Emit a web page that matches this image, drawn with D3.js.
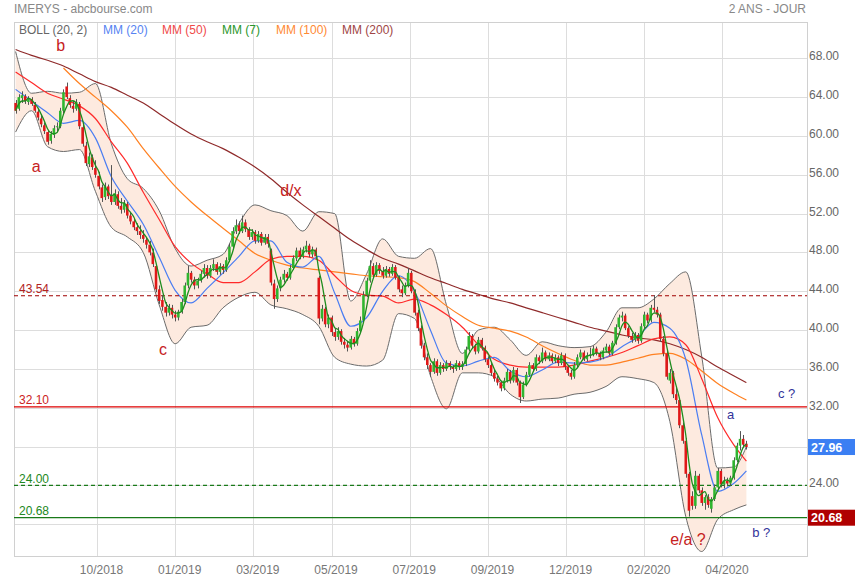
<!DOCTYPE html>
<html><head><meta charset="utf-8">
<script src="https://cdn.jsdelivr.net/npm/d3@7"></script>
<style>body{margin:0;background:#fff;} svg{display:block;font-family:"Liberation Sans",Arial,sans-serif;}</style>
</head><body><svg id="c" width="855" height="580"></svg>
<script>
// ---- data: candles [open, high, low, close] ----
const ohlc = [
[63.4,63.7,62.3,62.6],[62.8,64.3,62.6,64.0],[63.9,64.6,63.4,64.2],[64.1,64.3,63.3,63.6],[63.5,64.1,63.2,63.8],[63.8,64.0,63.1,63.3],[63.2,63.5,62.4,62.6],[62.5,62.8,61.6,61.9],[61.8,62.2,60.9,61.2],[61.1,61.4,60.2,60.5],
[60.4,60.6,59.1,59.4],[59.5,60.5,59.2,60.2],[60.1,61.1,59.8,60.8],[60.9,61.4,60.4,61.0],[61.0,62.9,60.8,62.6],[62.6,64.8,62.3,64.5],[65.1,65.5,63.8,64.0],[63.9,64.2,62.9,63.2],[63.1,63.6,62.4,62.8],[62.8,63.8,62.6,63.5],
[63.3,63.5,60.7,61.0],[60.9,61.2,58.9,59.2],[59.0,59.4,56.9,57.2],[57.1,58.3,56.8,57.9],[57.8,58.1,56.5,56.8],[56.7,57.5,55.7,56.0],[55.9,56.3,54.5,54.8],[54.7,55.0,53.2,53.6],[53.7,55.2,53.4,54.8],[54.8,55.0,53.5,53.8],
[53.9,57.0,52.9,53.2],[53.2,54.5,52.9,54.1],[54.0,54.3,52.5,52.8],[52.8,53.6,52.0,52.4],[52.4,53.4,52.1,53.1],[53.0,53.2,51.5,51.8],[51.8,52.2,50.9,51.2],[51.2,51.5,50.3,50.6],[50.6,51.0,49.8,50.2],[50.2,50.8,49.4,49.8],
[49.8,50.3,49.0,49.4],[49.3,49.6,48.4,48.8],[48.8,49.2,47.7,48.0],[48.0,48.4,46.5,46.8],[46.6,46.8,43.9,44.2],[44.2,44.6,42.7,43.0],[43.1,43.6,42.0,42.4],[42.4,42.9,41.4,41.8],[41.8,42.7,41.5,42.3],[42.3,42.6,41.2,41.6],
[41.6,42.0,40.9,41.3],[41.3,42.1,41.0,41.9],[41.9,43.2,41.7,42.9],[42.9,44.9,42.7,44.6],[44.6,46.6,44.3,45.9],[45.9,46.1,44.9,45.2],[45.2,45.5,44.2,44.6],[44.6,45.4,44.3,45.1],[45.1,46.1,44.9,45.8],[45.8,46.8,45.4,46.4],
[46.4,46.7,45.3,45.6],[45.6,46.7,45.4,46.4],[46.4,47.3,46.1,46.8],[46.8,47.0,45.7,46.0],[46.0,46.9,45.7,46.6],[46.6,46.8,45.8,46.2],[46.2,47.5,46.0,47.2],[47.2,48.9,47.0,48.6],[48.6,50.6,48.3,50.2],[50.2,51.4,49.9,50.8],
[50.8,51.2,49.9,50.2],[50.2,51.8,50.0,51.1],[51.1,51.4,50.1,50.4],[50.4,50.6,49.3,49.6],[49.6,50.4,49.3,50.1],[50.1,50.3,48.9,49.2],[49.2,50.2,49.0,49.9],[49.9,50.1,48.7,49.0],[49.0,49.9,48.8,49.6],[49.6,49.9,48.5,48.9],
[48.2,48.4,44.6,44.9],[44.8,45.2,42.2,43.2],[43.2,44.6,42.9,44.3],[44.3,45.5,44.0,45.2],[45.2,46.2,44.9,45.8],[45.8,46.0,45.1,45.4],[45.4,46.7,45.2,46.4],[46.4,47.7,46.2,47.4],[47.4,48.5,47.1,48.2],[48.2,48.5,47.3,47.6],
[47.6,48.6,47.4,48.3],[48.3,49.2,48.0,48.7],[48.7,48.9,47.5,47.8],[47.8,48.6,47.5,48.3],[48.3,48.5,47.3,47.6],[45.4,45.6,40.6,41.2],[41.2,42.6,40.9,42.2],[42.2,42.4,40.3,40.6],[40.6,41.6,40.2,41.3],[41.3,41.5,39.4,39.8],
[39.8,40.2,38.9,39.3],[39.3,40.3,39.0,39.9],[39.9,40.1,38.5,38.8],[38.8,39.2,38.1,38.5],[38.5,38.9,37.8,38.2],[38.2,39.4,38.0,39.1],[39.1,39.3,38.3,38.6],[38.6,40.2,38.4,39.9],[39.9,41.4,39.7,41.0],[41.0,44.0,40.8,43.6],
[43.6,45.4,43.4,45.1],[45.1,47.2,44.9,46.6],[46.6,46.9,45.4,45.7],[45.7,47.0,45.5,46.7],[46.7,46.9,45.8,46.1],[46.1,46.5,45.3,45.6],[45.6,46.6,45.4,46.3],[46.3,46.5,45.5,45.8],[45.8,46.8,45.6,46.5],[46.5,46.7,45.2,45.4],
[45.4,45.6,43.9,44.2],[44.2,44.6,43.4,43.8],[43.8,44.9,43.6,44.6],[44.6,46.4,44.4,45.9],[45.9,46.1,43.8,44.0],[44.0,44.2,41.5,41.8],[41.8,42.1,39.9,40.2],[40.2,40.5,38.1,38.4],[38.4,38.7,36.9,37.2],[37.2,37.6,36.0,36.4],
[36.4,36.6,35.2,35.7],[35.7,37.1,35.5,36.8],[36.8,37.0,35.3,35.6],[35.6,36.7,35.4,36.4],[36.4,36.6,35.7,36.0],[36.0,36.9,35.8,36.6],[36.6,36.8,35.9,36.2],[36.2,36.4,35.6,36.0],[36.0,36.9,35.8,36.6],[36.6,36.8,35.9,36.2],
[36.2,36.8,35.9,36.5],[36.5,38.3,36.3,38.0],[38.0,39.8,37.8,39.4],[39.4,39.6,38.1,38.4],[38.4,38.6,37.5,37.8],[37.8,39.3,37.6,39.0],[39.0,39.2,37.9,38.2],[38.2,38.4,36.7,37.0],[37.0,37.3,36.1,36.4],[36.4,36.6,35.3,35.6],
[35.6,35.9,34.7,35.0],[35.0,35.3,34.3,34.6],[34.6,34.8,33.7,34.0],[34.0,35.1,33.8,34.8],[34.8,36.0,34.6,35.7],[35.7,35.9,34.5,34.8],[34.8,36.2,34.6,35.9],[35.9,36.1,34.3,34.6],[34.6,34.8,32.5,33.1],[33.1,34.7,32.9,34.4],
[34.4,35.7,34.2,35.4],[35.4,36.7,35.2,36.4],[36.4,36.6,35.7,36.0],[36.0,37.5,35.8,37.2],[37.2,37.4,36.5,36.8],[36.8,38.2,36.6,37.7],[37.7,37.9,36.8,37.0],[37.0,37.7,36.8,37.4],[37.4,37.6,36.6,36.8],[36.8,37.5,36.6,37.2],
[37.2,37.4,36.3,36.6],[36.6,37.7,36.4,37.4],[37.4,37.6,35.9,36.2],[36.2,36.4,35.3,35.6],[35.6,35.9,34.9,35.2],[35.2,36.7,35.0,36.4],[36.4,37.5,36.2,37.2],[37.2,38.0,37.0,37.7],[37.7,37.9,36.8,37.0],[37.0,37.7,36.8,37.4],
[37.4,38.2,37.1,37.5],[37.5,38.4,37.3,38.1],[38.1,38.3,37.4,37.6],[37.6,37.8,36.9,37.2],[37.2,38.2,37.0,37.9],[37.9,38.6,37.7,38.3],[38.3,38.5,37.4,37.6],[37.6,38.9,37.4,38.7],[38.7,40.6,38.5,40.3],[40.3,41.6,40.1,41.3],
[41.3,41.9,40.9,41.5],[41.5,41.7,40.0,40.2],[40.2,40.4,39.2,39.4],[39.4,39.7,38.7,39.0],[39.0,39.8,38.8,39.5],[39.5,39.7,38.6,38.9],[38.9,40.7,38.7,40.4],[40.4,41.9,40.2,41.6],[41.6,41.8,40.7,41.0],[41.0,42.6,40.8,42.3],
[42.3,43.6,41.8,42.1],[42.1,42.4,41.3,41.6],[41.6,41.8,38.8,39.1],[39.1,39.4,37.3,37.6],[37.6,37.9,34.9,35.2],[34.8,36.0,34.5,35.6],[35.6,35.8,33.0,33.4],[33.4,34.1,32.4,32.8],[32.8,33.0,29.9,30.2],[30.2,30.5,28.3,28.6],
[28.6,28.9,24.8,25.2],[25.2,25.4,20.8,21.4],[22.9,23.4,21.5,21.9],[21.9,25.5,21.6,25.0],[25.0,25.2,23.2,23.5],[23.5,23.8,21.9,22.2],[22.2,23.0,21.5,22.8],[22.8,23.1,21.7,22.0],[21.6,22.8,21.2,22.6],[22.6,24.1,22.4,23.8],
[23.8,25.8,23.5,25.5],[25.5,25.7,23.8,24.1],[24.1,24.9,23.7,24.5],[24.5,24.8,23.9,24.2],[24.2,25.0,24.0,24.8],[24.8,26.9,24.6,26.6],[26.6,28.4,26.4,28.1],[28.1,29.6,27.6,28.8],[28.8,29.2,27.9,28.2],[28.3,28.6,27.7,27.96]
];

// indicator readings, one value every 5 candles (plus the last candle)
const sampleIdx = [...d3.range(0, 226, 5), 229];
const mm20 = [64.8,63.6,62.4,61.3,61.6,59.8,55.8,53.3,50.9,47.5,44.1,42.8,44.3,45.9,47.6,49.2,49.2,47.0,46.5,47.6,43.8,40.4,41.3,44.0,45.6,44.0,40.0,36.6,36.3,36.8,37.2,35.8,35.2,35.9,36.7,36.6,36.7,37.2,38.3,39.3,40.8,40.2,37.0,29.2,23.4,24.2,25.5];
const mm50 = [66.6,65.5,64.4,63.8,63.1,61.8,59.4,57.2,54.2,51.4,48.6,46.9,45.8,44.9,44.9,46.0,47.3,47.6,47.6,47.2,45.6,44.1,43.6,43.5,42.8,43.2,42.6,41.6,40.3,38.5,37.0,36.4,36.2,36.2,36.2,36.4,36.8,37.2,37.7,38.4,39.1,39.3,38.5,35.0,31.0,28.2,26.5];
const mm100 = [null,null,null,67.0,65.4,64.0,62.6,60.9,58.7,56.7,54.8,53.2,51.8,50.5,49.2,47.9,47.2,46.7,46.4,46.2,46.0,45.8,45.6,45.5,45.4,45.0,43.8,42.5,41.4,40.5,40.2,39.9,39.3,38.4,37.6,36.9,36.4,36.4,36.7,37.1,37.5,37.6,37.0,35.8,34.5,33.5,32.8];
const mm200 = [68.9,68.3,67.8,67.2,66.4,65.6,65.0,64.2,63.4,62.3,61.2,60.2,59.4,58.7,57.8,56.8,55.6,54.2,52.9,51.7,50.5,49.3,48.3,47.4,46.8,46.1,45.4,44.8,44.2,43.7,43.2,42.8,42.3,41.8,41.3,40.8,40.3,39.9,39.5,39.2,39.0,38.6,38.0,37.2,36.2,35.3,34.6];
const bollUp = [68.7,64.4,64.6,64.4,64.5,65.4,59.2,55.6,54.6,52.3,48.4,46.6,47.2,47.8,51.0,52.9,52.3,51.8,50.2,52.2,52.0,43.0,45.8,49.4,47.6,47.4,48.4,42.6,37.6,40.0,40.3,39.0,37.4,38.8,38.4,38.2,38.3,39.8,42.3,42.3,43.2,44.8,46.0,37.3,25.8,25.9,28.0];
const bollLow = [60.4,62.6,58.9,58.4,58.6,54.3,50.6,49.6,48.0,42.6,38.6,40.3,40.5,42.3,43.4,43.9,42.6,42.2,41.6,40.4,37.2,36.5,36.3,36.9,41.7,41.2,35.3,31.9,35.6,35.6,35.2,33.4,32.7,32.9,33.0,33.4,33.6,34.2,35.2,35.0,34.6,30.6,20.8,17.2,20.5,21.5,22.0];

const yTicks = d3.range(20, 69, 4);
const xTickIdx = [25.5, 50, 74.5, 99, 123.5, 148, 172.5, 197, 221.5];
const xTickLabels = ["10/2018","01/2019","03/2019","05/2019","07/2019","09/2019","12/2019","02/2020","04/2020"];
const levelValues = [43.54, 32.10, 24.00, 20.68];
const lastPrice = 27.96;
const supportPrice = 20.68;
const legendLabels = ["BOLL (20, 2)", "MM (20)", "MM (50)", "MM (7)", "MM (100)", "MM (200)"];
const redNotes = [["a",5.1,56.3],["b",12.7,68.75],["c",44.9,37.45],["d/x",82.9,53.8],["e/a ?",205.1,17.9]];
const blueNotes = [["a",222.9,30.85],["c ?",238.9,33.0],["b ?",230.8,18.7]];

// ---- layout ----
const L = 14, R = 807, T = 22, B = 556;
const svg = d3.select("#c");
const x = d3.scaleLinear().domain([-0.5, ohlc.length - 0.5]).range([14, 748]);
const y = d3.scaleLinear().domain([20, 68]).range([524.3, 58.3]);

svg.append("defs").append("clipPath").attr("id","clip")
  .append("rect").attr("x",L).attr("y",T).attr("width",R-L).attr("height",B-T);

// title
svg.append("text").attr("x",14).attr("y",13).attr("font-size",12).attr("fill","#888").text("IMERYS - abcbourse.com");
svg.append("text").attr("x",806).attr("y",13).attr("font-size",12).attr("fill","#888").attr("text-anchor","end").text("2 ANS - JOUR");

// grid
const grid = svg.append("g").attr("shape-rendering","crispEdges");
grid.selectAll(".hg").data(yTicks).join("line")
  .attr("x1",L).attr("x2",R).attr("y1",d=>Math.round(y(d))+0.5).attr("y2",d=>Math.round(y(d))+0.5)
  .attr("stroke","#dddddd");
grid.selectAll(".vg").data(xTickIdx).join("line")
  .attr("x1",d=>Math.round(x(d))+0.5).attr("x2",d=>Math.round(x(d))+0.5).attr("y1",T).attr("y2",B)
  .attr("stroke","#dddddd");
grid.append("rect").attr("x",L+0.5).attr("y",T+0.5).attr("width",R-L).attr("height",B-T)
  .attr("fill","none").attr("stroke","#d0d0d0");

const plot = svg.append("g").attr("clip-path","url(#clip)");

// bollinger band
const bandData = sampleIdx.map((d,i)=>({i:d, up:bollUp[i], lo:bollLow[i]}));
plot.append("path").datum(bandData)
  .attr("d", d3.area().x(d=>x(d.i)).y0(d=>y(d.lo)).y1(d=>y(d.up)).curve(d3.curveMonotoneX))
  .attr("fill","#fdeadf");

const lineOf = arr => d3.line().defined(d=>d.v!=null).x(d=>x(d.i)).y(d=>y(d.v)).curve(d3.curveMonotoneX)(sampleIdx.map((s,k)=>({i:s, v:arr[k]})));
const drawLine = (arr,color,w) => plot.append("path").attr("d", lineOf(arr)).attr("fill","none").attr("stroke",color).attr("stroke-width",w);

drawLine(bollUp, "#6b6b6b", 1);
drawLine(bollLow, "#6b6b6b", 1);
drawLine(mm200, "#8f2a2a", 1.2);
drawLine(mm100, "#ff8021", 1.2);
drawLine(mm50, "#ff2a2a", 1.2);

// level lines
const levelStyle = [
  {stroke:"#a00000", dash:"4,3", text:"#b22222", w:1.2},
  {stroke:"#dd0000", dash:null, text:"#cc2222", w:1.4},
  {stroke:"#1a7a1a", dash:"4,3", text:"#228822", w:1.2},
  {stroke:"#1a7a1a", dash:null, text:"#228822", w:1.3}
];
levelValues.forEach((v,k)=>{
  const st = levelStyle[k];
  const ln = svg.append("line").attr("x1",L).attr("x2",R).attr("y1",y(v)).attr("y2",y(v))
    .attr("stroke",st.stroke).attr("stroke-width",st.w);
  if (st.dash) ln.attr("stroke-dasharray",st.dash);
  svg.append("text").attr("x",19).attr("y",y(v)-2.5).attr("font-size",12).attr("fill",st.text).text(v.toFixed(2));
});

drawLine(mm20, "#4a7df2", 1.2);

// candles
const step = x(1) - x(0);
const bw = step * 0.8;
const cg = svg.append("g").attr("clip-path","url(#clip)");
cg.selectAll(".wick").data(ohlc).join("line")
  .attr("x1",(d,i)=>Math.round(x(i))+0.5).attr("x2",(d,i)=>Math.round(x(i))+0.5)
  .attr("y1",d=>y(d[1])).attr("y2",d=>y(d[2]))
  .attr("stroke","#555").attr("stroke-width",1);
cg.selectAll(".body").data(ohlc).join("rect")
  .attr("x",(d,i)=>x(i)-bw/2).attr("width",bw)
  .attr("y",d=>y(Math.max(d[0],d[3])))
  .attr("height",d=>Math.max(1, Math.abs(y(d[0])-y(d[3]))))
  .attr("fill",d=> d[3]>=d[0] ? "#2fb52f" : "#e01818");

// MM(7): moving average of the candle closes
const closes = ohlc.map(d=>d[3]);
const mm7 = closes.map((c,i)=>({i, v:d3.mean(closes.slice(Math.max(0,i-3), i+1))}));
cg.append("path").attr("d", d3.line().x(d=>x(d.i)).y(d=>y(d.v)).curve(d3.curveMonotoneX)(mm7))
  .attr("fill","none").attr("stroke","#1e8c1e").attr("stroke-width",1.3);

// legend
const legendColors = ["#666","#5683f2","#f04a4a","#2a962a","#ff8a33","#a04646"];
const legendX = [19, 103, 162, 222, 276, 342];
legendLabels.forEach((t,k)=> svg.append("text").attr("x",legendX[k]).attr("y",34).attr("font-size",12).attr("fill",legendColors[k]).text(t));

// annotations
redNotes.forEach(n=> svg.append("text").attr("x",x(n[1])).attr("y",y(n[2])).attr("font-size",16).attr("fill","#c62222").text(n[0]));
blueNotes.forEach(n=> svg.append("text").attr("x",x(n[1])).attr("y",y(n[2])).attr("font-size",13).attr("fill","#33339a").text(n[0]));

// right axis (labels hidden behind the price boxes are not drawn)
const boxed = [lastPrice, supportPrice];
const axisTicks = yTicks.filter(t => boxed.every(b => Math.abs(y(t) - y(b)) > 12));
const yAxis = d3.axisRight(y).tickValues(axisTicks).tickFormat(d3.format(".2f")).tickSize(0).tickPadding(2);
const ya = svg.append("g").attr("transform",`translate(${R},0)`).call(yAxis);
ya.select(".domain").remove();
ya.selectAll("text").attr("fill","#666").attr("font-size",12).attr("font-family","Liberation Sans, Arial, sans-serif").attr("dy","0.12em");

// bottom axis
const xAxis = d3.axisBottom(x).tickValues(xTickIdx).tickFormat((d,i)=>xTickLabels[i]).tickSize(0).tickPadding(9.5);
const xa = svg.append("g").attr("transform",`translate(0,${B})`).call(xAxis);
xa.select(".domain").remove();
xa.selectAll("text").attr("fill","#777").attr("font-size",12).attr("font-family","Liberation Sans, Arial, sans-serif").attr("transform","translate(4,0)");

// price boxes
[[lastPrice,"#3b7ff3"],[supportPrice,"#b00000"]].forEach(([v,col])=>{
  svg.append("rect").attr("x",808).attr("y",y(v)-8).attr("width",47).attr("height",16).attr("fill",col);
  svg.append("text").attr("x",811).attr("y",y(v)+4.5).attr("font-size",12.5).attr("font-weight","bold").attr("fill","#fff").text(v.toFixed(2));
});
</script></body></html>
